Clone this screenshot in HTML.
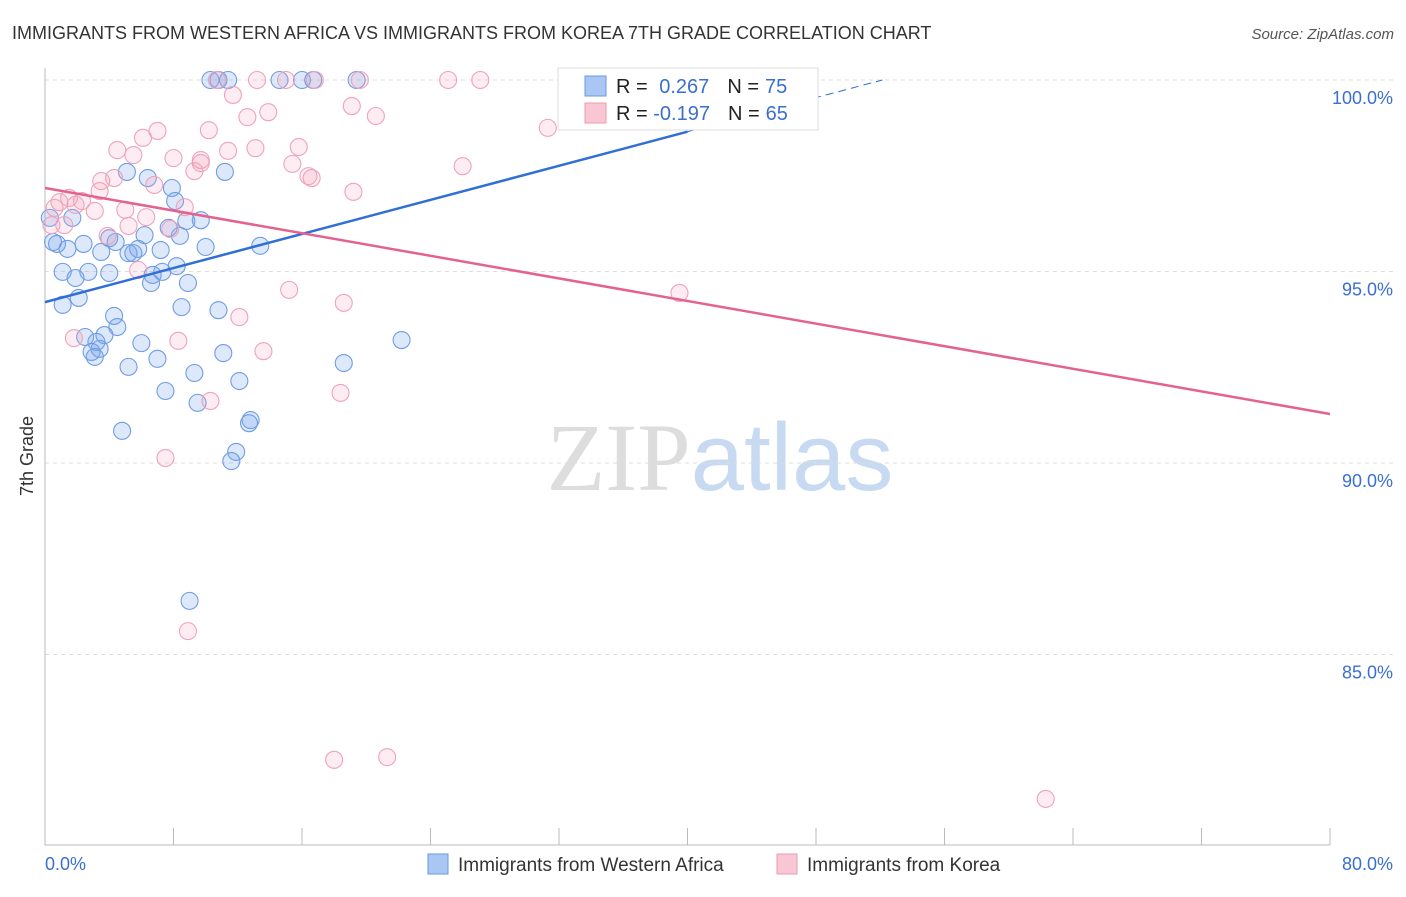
<!DOCTYPE html>
<html><head><meta charset="utf-8">
<style>
body{margin:0;background:#fff;font-family:"Liberation Sans",sans-serif;}
svg text{font-family:"Liberation Sans",sans-serif;}
</style></head>
<body>
<svg id="chart" width="1406" height="892" xmlns="http://www.w3.org/2000/svg">
<text x="12" y="39" font-size="18" fill="#333">IMMIGRANTS FROM WESTERN AFRICA VS IMMIGRANTS FROM KOREA 7TH GRADE CORRELATION CHART</text>
<text x="1394" y="39" font-size="15" fill="#555" text-anchor="end" font-style="italic">Source: ZipAtlas.com</text>
<text transform="translate(33,456) rotate(-90)" font-size="18" fill="#333" text-anchor="middle">7th Grade</text>
<text x="720" y="490" font-size="96" text-anchor="middle"><tspan fill="#ddd" font-family="Liberation Serif">ZIP</tspan><tspan fill="#c8daf2">atlas</tspan></text>
<g id="grid"></g><g id="axes"></g><g id="pts"></g><g id="lines"></g>
<g>
<rect x="558" y="68" width="260" height="62" fill="#fff" stroke="#ddd"/>
<rect x="585" y="76" width="21" height="20" fill="#a9c7f2" stroke="#6a9ae0"/>
<rect x="585" y="103" width="21" height="20" fill="#f9c6d4" stroke="#ec9ab4"/>
<text x="616" y="93" font-size="20" fill="#222">R = <tspan fill="#3a6fd0" dx="6">0.267</tspan><tspan dx="18" fill="#222">N =</tspan><tspan dx="6" fill="#3a6fd0">75</tspan></text>
<text x="616" y="120" font-size="20" fill="#222">R = <tspan fill="#3a6fd0">-0.197</tspan><tspan dx="18" fill="#222">N =</tspan><tspan dx="6" fill="#3a6fd0">65</tspan></text>
</g>
<g>
<rect x="428" y="854" width="20" height="20" fill="#a9c7f2" stroke="#6a9ae0"/>
<text x="458" y="871" font-size="19" fill="#333">Immigrants from Western Africa</text>
<rect x="777" y="854" width="20" height="20" fill="#f9c6d4" stroke="#ec9ab4"/>
<text x="807" y="871" font-size="19" fill="#333">Immigrants from Korea</text>
</g>
<text x="45" y="870" font-size="18" fill="#3a6fd0">0.0%</text>
<text x="1393" y="870" font-size="18" fill="#3a6fd0" text-anchor="end">80.0%</text>
</svg>
<script>
const yTicks=[100,95,90,85];
const blueX=[10.3,10.8,11.4,14.6,16.0,16.7,19.4,33.6,35.9,5.1,6.4,7.9,8.1,11.2,9.7,8.8,7.7,8.4,4.0,4.4,6.2,5.8,5.2,5.5,7.2,3.5,2.4,1.4,0.75,0.5,1.7,0.3,1.1,2.7,4.0,6.7,7.3,8.2,6.6,8.9,10.0,13.4,1.9,2.1,1.1,8.5,10.8,4.3,4.5,3.7,2.5,3.2,3.4,2.9,3.1,6.0,7.0,5.2,11.1,9.3,7.5,12.1,18.6,22.2,9.5,12.8,12.7,4.8,11.9,11.6,9.0];
const blueY=[100,100,100,100,100,100,100,100,100,97.6,97.44,97.18,96.84,97.6,96.34,96.32,96.14,95.93,95.87,95.77,95.95,95.59,95.48,95.48,95.56,95.51,95.72,95.59,95.72,95.77,96.4,96.4,94.99,94.99,94.96,94.91,94.99,95.14,94.7,94.7,95.64,95.67,94.83,94.31,94.13,94.07,93.99,93.84,93.55,93.34,93.29,93.16,92.98,92.9,92.77,93.13,92.72,92.51,92.87,92.35,91.88,92.14,92.61,93.21,91.57,91.12,91.04,90.84,90.29,90.05,86.4];
const pinkX=[10.7,13.2,15.0,16.8,19.6,25.1,27.1,39.4,11.7,19.1,13.9,20.6,12.6,31.3,7.0,6.1,10.2,11.4,15.8,4.5,5.5,8.0,9.7,9.7,13.1,15.4,26.0,9.3,16.6,16.4,4.3,3.5,3.4,6.8,19.2,1.5,2.3,1.9,3.1,5.0,6.3,8.7,0.9,0.6,0.4,1.2,3.9,7.8,5.2,5.8,15.2,18.6,39.5,12.1,1.8,8.3,13.6,18.4,10.3,7.5,8.9,18.0,21.3,62.3];
const pinkY=[100,100,100,100,100,100,100,100,99.61,99.32,99.16,99.06,99.03,98.75,98.67,98.49,98.69,98.15,98.25,98.17,98.04,97.96,97.91,97.83,98.22,97.81,97.75,97.62,97.44,97.49,97.44,97.36,97.1,97.26,97.08,96.92,96.84,96.74,96.58,96.61,96.42,96.68,96.81,96.66,96.21,96.21,95.93,96.11,96.19,95.04,94.52,94.18,94.44,93.81,93.26,93.19,92.92,91.83,91.62,90.13,85.61,82.25,82.32,81.23];
const blueTrend=[94.2,103.1];
const pinkTrend=[97.18,91.28];
const NS='http://www.w3.org/2000/svg';
const sx=v=>45+v/80*1285, sy=v=>80+(100-v)*38.3;
function mk(p,t,a){const e=document.createElementNS(NS,t);for(const k in a)e.setAttribute(k,a[k]);document.getElementById(p).appendChild(e);return e;}
yTicks.forEach(t=>{
 const l=mk('grid','line',{x1:45,x2:1393,y1:sy(t),y2:sy(t),stroke:'#ddd','stroke-dasharray':'4,4'});
 
 
 const tx=mk('grid','text',{x:1393,y:sy(t)+24,'font-size':18,fill:'#3a6fd0','text-anchor':'end'});
 tx.textContent=t.toFixed(1)+'%';
 
 
});
const ax=mk('axes','line',{x1:45,x2:45,y1:68,y2:845,stroke:'#bbb'});


const bx=mk('axes','line',{x1:45,x2:1330,y1:845,y2:845,stroke:'#bbb'});


for(let i=0;i<=10;i++){const v=i*8;const t=mk('axes','line',{x1:sx(v),x2:sx(v),y1:828,y2:845,stroke:'#bbb'});
 
 }
blueX.forEach((x,i)=>{const c=mk('pts','circle',{cx:sx(x),cy:sy(blueY[i]),r:8.5,fill:'rgba(120,165,235,0.25)',stroke:'#6f9de3','stroke-width':1.1});
 
 });
pinkX.forEach((x,i)=>{const c=mk('pts','circle',{cx:sx(x),cy:sy(pinkY[i]),r:8.5,fill:'rgba(245,160,185,0.2)',stroke:'#eea3bb','stroke-width':1.1});
 
 });
const bAt=v=>blueTrend[0]+(blueTrend[1]-blueTrend[0])*v/80;
const vEnd=(100-blueTrend[0])/(blueTrend[1]-blueTrend[0])*80;
const b1=mk('lines','line',{x1:sx(0),y1:sy(bAt(0)),x2:sx(40),y2:sy(bAt(40)),stroke:'#2f6fd6','stroke-width':2.5});


const b2=mk('lines','line',{x1:sx(40),y1:sy(bAt(40)),x2:sx(vEnd),y2:sy(bAt(vEnd)),stroke:'#2f6fd6','stroke-width':1,'stroke-dasharray':'8,5'});


const p1=mk('lines','line',{x1:sx(0),y1:sy(pinkTrend[0]),x2:sx(80),y2:sy(pinkTrend[1]),stroke:'#e4638e','stroke-width':2.5});


</script>
</body></html>
